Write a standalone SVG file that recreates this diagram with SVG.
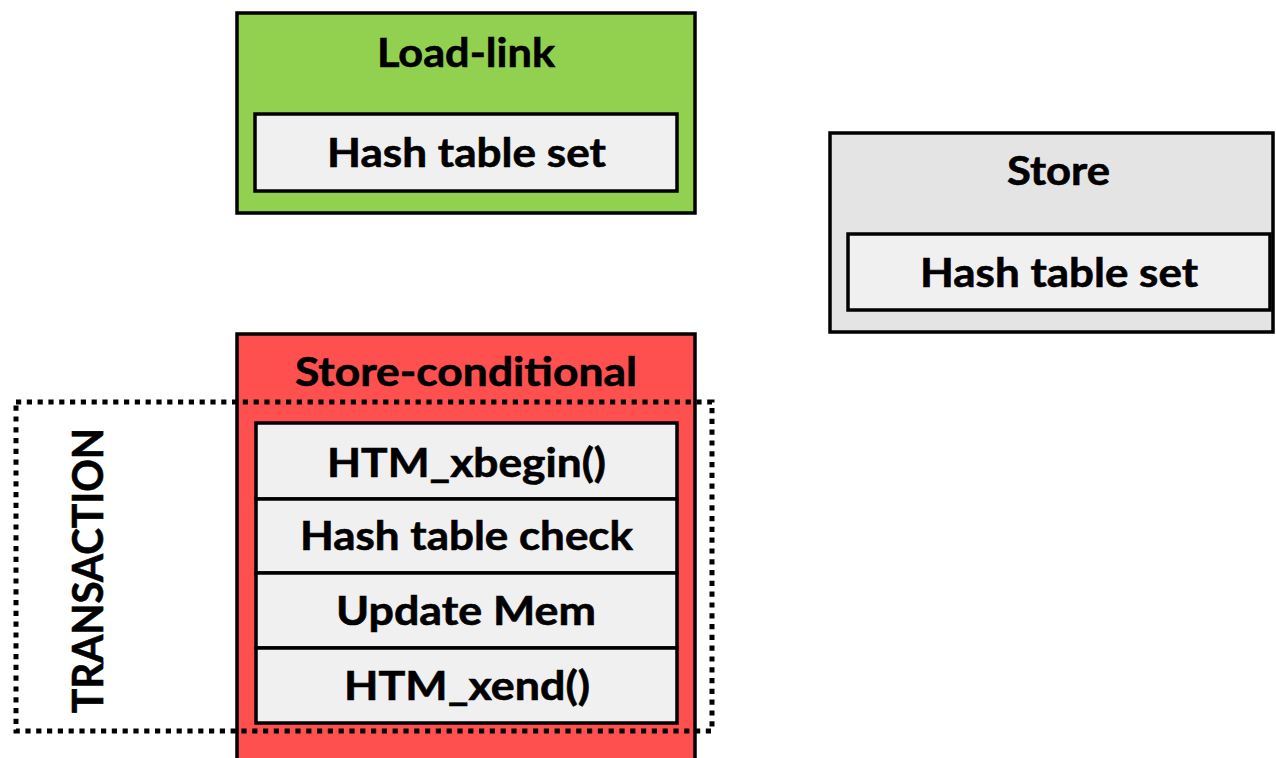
<svg xmlns="http://www.w3.org/2000/svg" width="1276" height="758" viewBox="0 0 1276 758">
  <style>
    .box { stroke: #000; stroke-width: 3.5; }
    .cell { fill: #F0F0F0; stroke: #000; stroke-width: 3.5; }
    .green { fill: #92D050; }
    .red { fill: #FF5050; }
    .grey { fill: #E4E4E4; }
    .lbl { font-family: Lato, "Open Sans", "Liberation Sans", sans-serif; font-weight: 700; font-size: 40px; fill: #000; text-anchor: middle; stroke: #000; stroke-width: 0.6; }
    .frame { fill: none; stroke: #000; stroke-width: 5; stroke-dasharray: 5.2 5.6; }
  </style>

  <!-- Load-link block -->
  <g id="load-link">
    <rect class="box green" x="237" y="13" width="458" height="200"/>
    <text class="lbl" x="466" y="67" textLength="178" lengthAdjust="spacingAndGlyphs">Load-link</text>
    <rect class="cell" x="255" y="114" width="422" height="77"/>
    <text class="lbl" x="466.5" y="167" textLength="279" lengthAdjust="spacingAndGlyphs">Hash table set</text>
  </g>

  <!-- Store block -->
  <g id="store">
    <rect class="box grey" x="830" y="133" width="443" height="199"/>
    <text class="lbl" x="1058.5" y="185" textLength="103" lengthAdjust="spacingAndGlyphs">Store</text>
    <rect class="cell" x="848" y="234" width="422" height="76"/>
    <text class="lbl" x="1059" y="287" textLength="278" lengthAdjust="spacingAndGlyphs">Hash table set</text>
  </g>

  <!-- Store-conditional block with its step list -->
  <g id="store-conditional">
    <rect class="box red" x="237" y="334" width="458" height="440"/>
    <text class="lbl" x="466" y="386" textLength="342" lengthAdjust="spacingAndGlyphs">Store-conditional</text>
    <rect class="cell" x="256" y="423" width="421" height="76"/>
    <rect class="cell" x="256" y="499" width="421" height="74"/>
    <rect class="cell" x="256" y="573" width="421" height="75"/>
    <rect class="cell" x="256" y="648" width="421" height="75"/>
    <text class="lbl" x="466.5" y="477" textLength="279" lengthAdjust="spacingAndGlyphs">HTM_xbegin()</text>
    <text class="lbl" x="466.5" y="550" textLength="333" lengthAdjust="spacingAndGlyphs">Hash table check</text>
    <text class="lbl" x="466" y="625" textLength="260" lengthAdjust="spacingAndGlyphs">Update Mem</text>
    <text class="lbl" x="467" y="700" textLength="246" lengthAdjust="spacingAndGlyphs">HTM_xend()</text>
  </g>

  <!-- Transaction boundary -->
  <g id="transaction">
    <rect class="frame" x="16" y="402" width="696" height="329"/>
    <text class="lbl" transform="translate(103 570.5) rotate(-90)" x="0" y="0" style="font-size:42px" textLength="285" lengthAdjust="spacingAndGlyphs">TRANSACTION</text>
  </g>
</svg>
